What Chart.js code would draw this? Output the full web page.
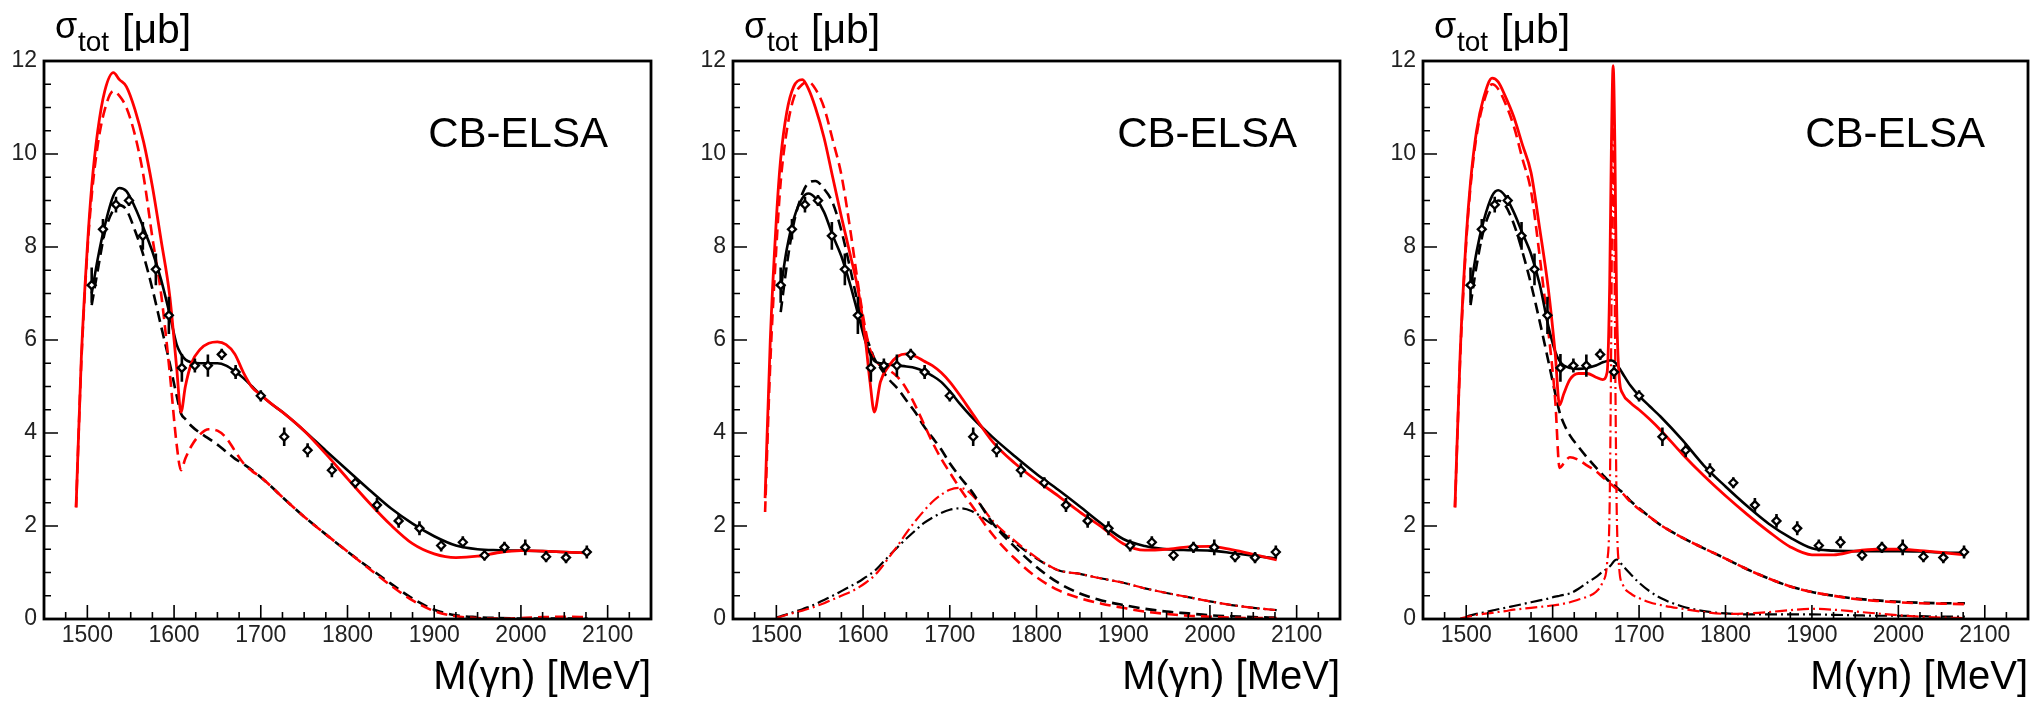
<!DOCTYPE html>
<html>
<head>
<meta charset="utf-8">
<script src="https://cdn.jsdelivr.net/npm/chart.js@4.4.1/dist/chart.umd.min.js"></script>
<style>
  html, body { margin: 0; padding: 0; background: #fff; }
  body { width: 2037px; height: 702px; position: relative; overflow: hidden; }
  canvas { position: absolute; top: 0; }
</style>
</head>
<body>
<canvas id="panel1" width="689" height="702" style="left:0px"></canvas>
<canvas id="panel2" width="689" height="702" style="left:689px"></canvas>
<canvas id="panel3" width="658" height="702" style="left:1379px"></canvas>
<script>
// axis ticks
const massTicks = [1500, 1600, 1700, 1800, 1900, 2000, 2100];
const xsecTicks = [0, 2, 4, 6, 8, 10, 12];

// CB-ELSA data points (same in all panels)
const pointMass = [1505, 1518, 1533, 1548, 1564, 1579, 1594, 1609, 1624, 1639, 1655, 1671, 1700, 1727,
  1754, 1782, 1809, 1834, 1859, 1883, 1908, 1933, 1958, 1981, 2005, 2029, 2052, 2076];
const pointXsec = [7.18, 8.38, 8.91, 9.0, 8.24, 7.52, 6.53, 5.40, 5.45, 5.45, 5.69, 5.31, 4.80, 3.92,
  3.63, 3.20, 2.93, 2.45, 2.11, 1.95, 1.58, 1.65, 1.37, 1.54, 1.54, 1.34, 1.32, 1.44];
const pointErr = [0.38, 0.22, 0.17, 0.12, 0.30, 0.34, 0.40, 0.30, 0.15, 0.24, 0.12, 0.15, 0.12, 0.20,
  0.15, 0.15, 0.12, 0.15, 0.15, 0.15, 0.13, 0.13, 0.11, 0.12, 0.17, 0.12, 0.12, 0.14];

// mass grid for the curves of panels 1 and 2
const massGrid = [1487, 1493, 1500, 1505, 1512, 1520, 1530, 1537, 1545, 1555, 1565, 1575, 1585, 1595,
  1603, 1608, 1613, 1620, 1630, 1640, 1650, 1660, 1670, 1680, 1690, 1700, 1712, 1725, 1750, 1775,
  1800, 1825, 1850, 1875, 1900, 1925, 1950, 1975, 2000, 2025, 2050, 2077];

// panel 1
const p1FitRed = [2.4, 5.6, 8.0, 9.3, 10.5, 11.35, 11.75, 11.6, 11.45, 10.95, 10.25, 9.3, 8.15, 6.95,
  5.4, 4.45, 5.0, 5.5, 5.8, 5.93, 5.96, 5.9, 5.7, 5.3, 4.98, 4.82, 4.63, 4.45, 4.05, 3.55,
  3.02, 2.5, 2.02, 1.62, 1.4, 1.32, 1.35, 1.43, 1.47, 1.46, 1.44, 1.42];
const p1FitBlack = [null, null, null, 7.0, 7.75, 8.45, 9.1, 9.27, 9.2, 8.85, 8.4, 7.9, 7.3, 6.55,
  5.9, 5.7, 5.58, 5.52, 5.5, 5.5, 5.5, 5.45, 5.33, 5.18, 5.0, 4.82, 4.63, 4.45, 4.05, 3.62,
  3.2, 2.78, 2.38, 2.05, 1.78, 1.58, 1.5, 1.48, 1.47, 1.46, 1.44, 1.42];
const p1BgRed = [2.4, 5.5, 7.9, 9.1, 10.2, 10.95, 11.35, 11.25, 11.0, 10.4, 9.5, 8.2, 7.0, 5.3,
  3.75, 3.2, 3.45, 3.72, 3.97, 4.08, 4.05, 3.9, 3.62, 3.35, 3.18, 3.05, 2.85, 2.62, 2.2, 1.82,
  1.45, 1.08, 0.72, 0.4, 0.17, 0.06, 0.02, 0.01, 0.02, 0.04, 0.05, 0.04];
const p1BgBlack = [null, null, null, 6.75, 7.5, 8.3, 8.8, 8.9, 8.8, 8.35, 7.8, 7.1, 6.3, 5.5,
  4.8, 4.42, 4.3, 4.15, 4.0, 3.88, 3.75, 3.6, 3.45, 3.33, 3.2, 3.05, 2.85, 2.62, 2.2, 1.82,
  1.45, 1.1, 0.76, 0.44, 0.2, 0.08, 0.04, 0.02, 0.01, 0.01, 0.01, 0.01];

// panel 2
const p2FitRed = [2.6, 6.0, 8.6, 9.9, 10.9, 11.45, 11.6, 11.4, 11.0, 10.35, 9.5, 8.65, 7.85, 7.0,
  5.95, 5.1, 4.45, 5.1, 5.45, 5.65, 5.7, 5.65, 5.55, 5.45, 5.3, 5.1, 4.8, 4.45, 3.8, 3.35,
  2.98, 2.65, 2.3, 1.98, 1.62, 1.48, 1.5, 1.55, 1.56, 1.49, 1.39, 1.27];
const p2FitBlack = [null, null, null, 7.1, 7.95, 8.6, 9.05, 9.15, 9.05, 8.75, 8.25, 7.8, 7.2, 6.5,
  5.95, 5.7, 5.55, 5.5, 5.47, 5.45, 5.43, 5.4, 5.33, 5.23, 5.1, 4.9, 4.62, 4.35, 3.9, 3.5,
  3.12, 2.78, 2.42, 2.05, 1.72, 1.57, 1.5, 1.48, 1.47, 1.42, 1.36, 1.3];
const p2BgRed = [2.3, 5.5, 8.0, 9.4, 10.5, 11.2, 11.5, 11.55, 11.4, 11.0, 10.3, 9.55, 8.4, 7.1,
  6.2, 5.8, 5.6, 5.45, 5.35, 5.2, 4.95, 4.6, 4.2, 3.8, 3.45, 3.15, 2.8, 2.45, 1.8, 1.3,
  0.9, 0.62, 0.45, 0.33, 0.24, 0.16, 0.11, 0.07, 0.05, 0.03, 0.02, 0.02];
const p2BgBlack = [null, null, null, 6.6, 7.6, 8.5, 9.15, 9.38, 9.42, 9.25, 8.95, 8.35, 7.55, 6.7,
  6.1, 5.85, 5.6, 5.4, 5.15, 4.95, 4.7, 4.45, 4.15, 3.9, 3.65, 3.35, 3.05, 2.75, 2.05, 1.55,
  1.12, 0.78, 0.55, 0.4, 0.3, 0.22, 0.16, 0.12, 0.08, 0.06, 0.04, 0.03];
const p2ResRed = [null, null, 0.02, 0.05, 0.09, 0.13, 0.18, 0.22, 0.27, 0.34, 0.42, 0.5, 0.58, 0.68,
  0.78, 0.85, 0.93, 1.08, 1.33, 1.58, 1.85, 2.1, 2.32, 2.52, 2.67, 2.78, 2.82, 2.68, 2.1, 1.68,
  1.32, 1.05, 0.97, 0.87, 0.78, 0.66, 0.56, 0.47, 0.38, 0.3, 0.24, 0.19];
const p2ResBlack = [null, null, 0.03, 0.06, 0.1, 0.15, 0.21, 0.26, 0.32, 0.41, 0.5, 0.6, 0.7, 0.8,
  0.9, 0.96, 1.03, 1.16, 1.36, 1.55, 1.73, 1.9, 2.06, 2.18, 2.28, 2.35, 2.38, 2.32, 2.02, 1.64,
  1.3, 1.05, 0.97, 0.87, 0.78, 0.66, 0.56, 0.47, 0.38, 0.3, 0.24, 0.19];

// panel 3 (finer grid around the narrow state near 1670 MeV)
const massGridP3 = [1487, 1493, 1500, 1505, 1512, 1520, 1530, 1537, 1545, 1555, 1565, 1575, 1585, 1595,
  1603, 1608, 1613, 1620, 1630, 1640, 1650, 1658, 1663, 1666, 1668, 1670, 1672, 1674, 1677, 1681,
  1690, 1700, 1712, 1725, 1750, 1775, 1800, 1825, 1850, 1875, 1900, 1925, 1950, 1975, 2000, 2025,
  2050, 2077];
const p3FitRed = [2.4, 5.7, 8.2, 9.4, 10.5, 11.2, 11.63, 11.55, 11.25, 10.8, 10.2, 9.6, 8.4, 7.1,
  5.7, 4.6, 4.85, 5.15, 5.28, 5.28, 5.2, 5.15, 5.3, 7.2, 10.2, 11.9, 10.2, 6.8, 5.2, 4.85,
  4.65, 4.5, 4.3, 4.06, 3.55, 3.08, 2.65, 2.25, 1.88, 1.55, 1.38, 1.38, 1.46, 1.5, 1.5, 1.47,
  1.43, 1.38];
const p3FitBlack = [null, null, null, 7.1, 7.9, 8.55, 9.1, 9.22, 9.1, 8.75, 8.3, 7.85, 7.2, 6.3,
  5.75, 5.55, 5.45, 5.4, 5.38, 5.4, 5.45, 5.52, 5.55, 5.56, 5.56, 5.55, 5.52, 5.48, 5.4, 5.28,
  5.02, 4.8, 4.58, 4.35, 3.85, 3.3, 2.85, 2.43, 2.05, 1.75, 1.52, 1.47, 1.46, 1.46, 1.46, 1.45,
  1.43, 1.42];
const p3BgRed = [2.4, 5.6, 8.1, 9.3, 10.4, 11.1, 11.5, 11.4, 11.1, 10.6, 9.9, 9.2, 7.8, 6.2,
  4.7, 3.25, 3.35, 3.48, 3.42, 3.3, 3.18, 3.05, 2.97, 2.92, 2.89, 2.86, 2.83, 2.8, 2.76, 2.7,
  2.52, 2.36, 2.2, 2.02, 1.75, 1.52, 1.3, 1.07, 0.87, 0.7, 0.58, 0.5, 0.43, 0.39, 0.36, 0.34,
  0.33, 0.32];
const p3BgBlack = [null, null, null, 6.75, 7.6, 8.35, 8.85, 9.0, 8.9, 8.5, 7.9, 7.2, 6.4, 5.55,
  4.85, 4.45, 4.2, 3.95, 3.7, 3.47, 3.26, 3.1, 3.0, 2.95, 2.92, 2.89, 2.86, 2.83, 2.78, 2.72,
  2.54, 2.38, 2.2, 2.02, 1.75, 1.52, 1.3, 1.07, 0.87, 0.7, 0.58, 0.5, 0.44, 0.4, 0.37, 0.35,
  0.34, 0.34];
const p3ResRed = [null, 0.01, 0.04, 0.06, 0.09, 0.11, 0.13, 0.15, 0.17, 0.2, 0.22, 0.24, 0.26, 0.28,
  0.3, 0.31, 0.33, 0.36, 0.42, 0.48, 0.58, 0.8, 1.2, 2.5, 6.5, 11.6, 6.5, 2.5, 1.1, 0.75,
  0.55, 0.45, 0.36, 0.3, 0.22, 0.15, 0.11, 0.12, 0.15, 0.19, 0.22, 0.2, 0.16, 0.12, 0.08, 0.05,
  0.03, 0.02];
const p3ResBlack = [null, null, 0.05, 0.08, 0.11, 0.14, 0.18, 0.21, 0.24, 0.28, 0.32, 0.36, 0.4, 0.44,
  0.48, 0.5, 0.52, 0.55, 0.65, 0.78, 0.9, 1.02, 1.08, 1.13, 1.17, 1.22, 1.26, 1.28, 1.24, 1.15,
  0.97, 0.78, 0.6, 0.45, 0.27, 0.17, 0.12, 0.1, 0.1, 0.1, 0.1, 0.09, 0.08, 0.07, 0.07, 0.06,
  0.05, 0.05];

const FONT = '"Liberation Sans", Arial, Helvetica, sans-serif';
Chart.defaults.font.family = FONT;

const DASHED = [11, 6];
const DASHDOT = [12, 4, 2, 4];

function toXY(grid, values) {
  const out = [];
  grid.forEach((m, i) => { if (values[i] != null) out.push({ x: m, y: values[i] }); });
  return out;
}

function curve(grid, values, color, dash, width) {
  return {
    type: 'line',
    data: toXY(grid, values),
    borderColor: color,
    borderWidth: width,
    borderDash: dash,
    pointRadius: 0,
    fill: false,
    cubicInterpolationMode: 'monotone'
  };
}

// frame, inward ticks, error bars and the extra labels
const rootFrame = {
  id: 'rootFrame',
  beforeDatasetDraw(chart, args) {
    if (args.index !== 0) return;
    const { ctx, scales: { x, y } } = chart;
    ctx.save();
    ctx.strokeStyle = '#000';
    ctx.lineWidth = 2.6;
    ctx.beginPath();
    pointMass.forEach((m, i) => {
      const px = x.getPixelForValue(m);
      ctx.moveTo(px, y.getPixelForValue(pointXsec[i] - pointErr[i]));
      ctx.lineTo(px, y.getPixelForValue(pointXsec[i] + pointErr[i]));
    });
    ctx.stroke();
    ctx.restore();
  },
  afterDatasetsDraw(chart) {
    const { ctx, chartArea: a, scales: { x, y } } = chart;
    ctx.save();
    ctx.strokeStyle = '#000';
    ctx.lineWidth = 1.6;
    ctx.beginPath();
    for (let m = 1475; m < 2150; m += 25) {
      const px = x.getPixelForValue(m);
      const len = m % 100 === 0 ? 14 : 7;
      ctx.moveTo(px, a.bottom);
      ctx.lineTo(px, a.bottom - len);
    }
    for (let v = 0.5; v < 12; v += 0.5) {
      const py = y.getPixelForValue(v);
      const len = v % 2 === 0 ? 14 : 7;
      ctx.moveTo(a.left, py);
      ctx.lineTo(a.left + len, py);
    }
    ctx.stroke();
    ctx.lineWidth = 2.8;
    ctx.strokeRect(a.left, a.top, a.right - a.left, a.bottom - a.top);
    ctx.restore();
  },
  afterDraw(chart) {
    const { ctx, chartArea: a } = chart;
    ctx.save();
    ctx.fillStyle = '#000';
    ctx.textBaseline = 'alphabetic';
    ctx.textAlign = 'left';
    ctx.font = '36px ' + FONT;
    ctx.fillText('σ', a.left + 11, 38);
    ctx.font = '28px ' + FONT;
    ctx.fillText('tot', a.left + 34, 51);
    ctx.font = '41px ' + FONT;
    ctx.fillText('[μb]', a.left + 78, 43);
    ctx.font = '42px ' + FONT;
    ctx.textAlign = 'right';
    ctx.fillText('CB-ELSA', a.right - 43, 147);
    ctx.restore();
  }
};

function makePanel(id, padRight, datasets) {
  new Chart(document.getElementById(id), {
    type: 'scatter',
    data: { datasets: datasets },
    options: {
      responsive: false,
      animation: false,
      devicePixelRatio: 1,
      layout: { padding: { top: 61, right: padRight, bottom: 0, left: 0 } },
      plugins: { legend: { display: false }, tooltip: { enabled: false } },
      scales: {
        x: {
          type: 'linear', min: 1450, max: 2150,
          afterBuildTicks: s => { s.ticks = massTicks.map(v => ({ value: v })); },
          afterFit: s => { s.height = 83; },
          grid: { display: false, drawTicks: false },
          border: { display: false },
          ticks: { font: { size: 23 }, color: '#222', padding: 3, autoSkip: false, maxRotation: 0,
            callback: v => String(v) },
          title: { display: true, text: 'M(γn) [MeV]', align: 'end', color: '#000',
            font: { size: 40 }, padding: 0 }
        },
        y: {
          type: 'linear', min: 0, max: 12,
          afterBuildTicks: s => { s.ticks = xsecTicks.map(v => ({ value: v })); },
          afterFit: s => { s.width = 44; },
          grid: { display: false, drawTicks: false },
          border: { display: false },
          ticks: { font: { size: 23 }, color: '#222', padding: 7, callback: v => String(v) }
        }
      }
    },
    plugins: [rootFrame]
  });
}

function dataPoints() {
  return {
    data: pointMass.map((m, i) => ({ x: m, y: pointXsec[i] })),
    pointStyle: 'rectRot',
    pointRadius: 4,
    borderWidth: 2.3,
    borderColor: '#000',
    backgroundColor: '#fff',
    showLine: false
  };
}

makePanel('panel1', 38, [
  dataPoints(),
  curve(massGrid, p1FitRed, '#ff0000', [], 2.8),
  curve(massGrid, p1FitBlack, '#000', [], 2.6),
  curve(massGrid, p1BgRed, '#ff0000', DASHED, 2.6),
  curve(massGrid, p1BgBlack, '#000', DASHED, 2.6)
]);

makePanel('panel2', 38, [
  dataPoints(),
  curve(massGrid, p2FitRed, '#ff0000', [], 2.8),
  curve(massGrid, p2FitBlack, '#000', [], 2.6),
  curve(massGrid, p2BgRed, '#ff0000', DASHED, 2.6),
  curve(massGrid, p2BgBlack, '#000', DASHED, 2.6),
  curve(massGrid, p2ResRed, '#ff0000', DASHDOT, 2.2),
  curve(massGrid, p2ResBlack, '#000', DASHDOT, 2.2)
]);

makePanel('panel3', 9, [
  dataPoints(),
  curve(massGridP3, p3FitRed, '#ff0000', [], 2.8),
  curve(massGridP3, p3FitBlack, '#000', [], 2.6),
  curve(massGridP3, p3BgRed, '#ff0000', DASHED, 2.6),
  curve(massGridP3, p3BgBlack, '#000', DASHED, 2.6),
  curve(massGridP3, p3ResRed, '#ff0000', DASHDOT, 2.2),
  curve(massGridP3, p3ResBlack, '#000', DASHDOT, 2.2)
]);
</script>
</body>
</html>
